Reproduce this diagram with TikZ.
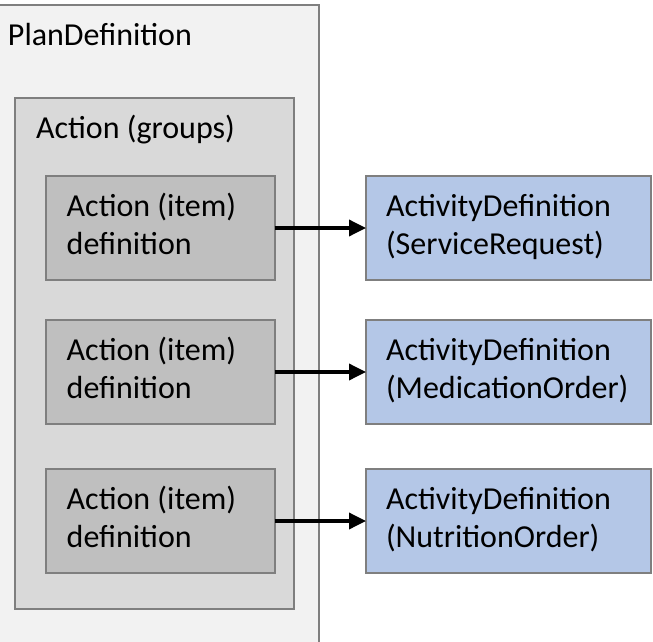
\documentclass[tikz,border=0pt]{standalone}
\usepackage{fontspec}
\setmainfont{Carlito}
\usetikzlibrary{arrows.meta}
\definecolor{edgegray}{HTML}{7F7F7F}
\definecolor{planfill}{HTML}{F2F2F2}
\definecolor{groupfill}{HTML}{D9D9D9}
\definecolor{itemfill}{HTML}{BFBFBF}
\definecolor{actfill}{HTML}{B4C7E7}
\begin{document}
\begin{tikzpicture}[x=1pt,y=-1pt,
  box/.style={draw=edgegray,line width=2pt,inner sep=0pt,outer sep=0pt,anchor=north west,rectangle},
  itembox/.style={box,fill=itemfill,minimum width=228.5pt,minimum height=104pt},
  actbox/.style={box,fill=actfill,minimum width=285pt,minimum height=104pt},
  txt/.style={anchor=base west,inner sep=0pt,outer sep=0pt,font=\fontsize{32}{38}\selectfont},
  link/.style={line width=3.5pt,-{Triangle[length=17pt,width=16pt]}}]
\useasboundingbox (0,0) rectangle (653,642);
\clip (0,0) rectangle (653,642);
\fill[white] (0,0) rectangle (653,642);
% containers
\node[box,fill=planfill,minimum width=324pt,minimum height=660pt] (plan) at (-5,5) {};
\node[txt] (plantxt) at (8,45.5) {PlanDefinition};
\node[box,fill=groupfill,minimum width=279pt,minimum height=511pt] (group) at (15,98) {};
\node[txt] (grouptxt) at (36,138.3) {Action (groups)};
% items
\node[itembox] (item1) at (46,176) {};
\node[itembox] (item2) at (46,320) {};
\node[itembox] (item3) at (46,469) {};
\node[txt] (item1a) at (66.7,216.5) {Action (item)};
\node[txt] (item1b) at (66.7,254.5) {definition};
\node[txt] (item2a) at (66.7,360.5) {Action (item)};
\node[txt] (item2b) at (66.7,398.5) {definition};
\node[txt] (item3a) at (66.7,509.5) {Action (item)};
\node[txt] (item3b) at (66.7,547.5) {definition};
% activities
\node[actbox] (act1) at (366,176) {};
\node[actbox] (act2) at (366,320) {};
\node[actbox] (act3) at (366,469) {};
\node[txt] (act1a) at (386,216.5) {ActivityDefinition};
\node[txt] (act1b) at (386,254.5) {(ServiceRequest)};
\node[txt] (act2a) at (386,360.5) {ActivityDefinition};
\node[txt] (act2b) at (386,398.5) {(MedicationOrder)};
\node[txt] (act3a) at (386,509.5) {ActivityDefinition};
\node[txt] (act3b) at (386,547.5) {(NutritionOrder)};
% connectors
\draw[link] (item1.east) -- (act1.west);
\draw[link] (item2.east) -- (act2.west);
\draw[link] (item3.east) -- (act3.west);
\end{tikzpicture}
\end{document}
